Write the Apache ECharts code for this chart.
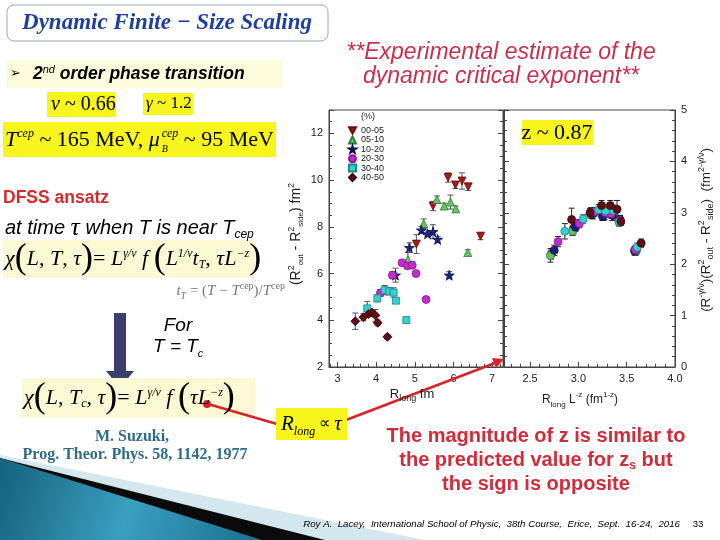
<!DOCTYPE html>
<html>
<head>
<meta charset="utf-8">
<script src="https://cdn.jsdelivr.net/npm/echarts@6/dist/echarts.min.js"></script>
<style>
  html, body { margin: 0; background: #fff; }
  #chart { width: 720px; height: 540px; }
</style>
</head>
<body>
<div id="chart"></div>
<script>
// centrality classes (%)
const centralities = ["00-05", "05-10", "10-20", "20-30", "30-40", "40-50"];

// left panel: [R_long (fm), R2out - R2side (fm^2), error]
const left0005 = [[5.86, 10.11, 0.2], [6.05, 9.79, 0.15], [6.22, 9.96, 0.35], [6.38, 9.71, 0.15], [5.47, 8.89, 0.2], [5.04, 7.26, 0.4], [6.70, 7.60, 0.15]];
const left0510 = [[5.57, 9.17, 0.15], [5.76, 8.89, 0.12], [5.92, 9.06, 0.3], [6.06, 8.77, 0.12], [5.23, 8.14, 0.2], [4.82, 6.60, 0.3], [6.37, 6.90, 0.12]];
const left1020 = [[5.17, 7.86, 0.15], [5.33, 7.70, 0.12], [5.47, 7.79, 0.3], [5.59, 7.46, 0.12], [4.86, 7.11, 0.2], [4.50, 5.93, 0.3], [5.89, 5.93, 0.15]];
const left2030 = [[4.67, 6.46, 0.12], [4.81, 6.33, 0.12], [4.93, 6.36, 0.15], [5.03, 6.00, 0.12], [4.42, 5.93, 0.15], [4.11, 5.17, 0.15], [5.29, 4.89, 0.12]];
const left3040 = [[4.22, 5.29, 0.2], [4.34, 5.24, 0.15], [4.45, 5.19, 0.2], [4.51, 4.84, 0.12], [4.03, 4.94, 0.15], [3.77, 4.51, 0.3], [4.78, 4.01, 0.12]];
const left4050 = [[3.46, 3.96, 0.35], [3.67, 4.13, 0.15], [3.80, 4.27, 0.12], [3.89, 4.33, 0.12], [3.98, 4.21, 0.25], [4.04, 3.89, 0.12], [4.29, 3.29, 0.1]];

// right panel: [R_long L^-z, R^-gamma/nu (R2out - R2side), error]
const right0005 = [[2.72, 2.20, 0.1], [2.95, 2.70, 0.1], [3.13, 3.00, 0.1], [3.27, 2.97, 0.1], [3.37, 2.98, 0.1], [3.43, 2.86, 0.08], [3.60, 2.27, 0.08]];
const right0510 = [[2.71, 2.17, 0.13], [2.94, 2.64, 0.08], [3.14, 2.99, 0.1], [3.26, 2.95, 0.1], [3.36, 2.97, 0.12], [3.42, 2.84, 0.08], [3.59, 2.25, 0.08]];
const right1020 = [[2.75, 2.27, 0.1], [2.97, 2.72, 0.08], [3.15, 2.98, 0.1], [3.25, 2.93, 0.08], [3.35, 2.95, 0.1], [3.43, 2.87, 0.08], [3.58, 2.26, 0.08]];
const right2030 = [[2.79, 2.44, 0.1], [3.01, 2.79, 0.08], [3.17, 3.02, 0.08], [3.28, 3.00, 0.08], [3.34, 2.98, 0.08], [3.43, 2.85, 0.08], [3.59, 2.28, 0.08]];
const right3040 = [[2.86, 2.64, 0.15], [3.05, 2.88, 0.08], [3.21, 3.06, 0.1], [3.28, 3.04, 0.08], [3.36, 3.05, 0.1], [3.42, 2.82, 0.08], [3.61, 2.33, 0.08]];
const right4050 = [[2.93, 2.87, 0.22], [3.12, 3.00, 0.08], [3.24, 3.14, 0.1], [3.33, 3.14, 0.1], [3.40, 3.07, 0.17], [3.44, 2.83, 0.08], [3.65, 2.41, 0.08]];

const leftXTicks = [3, 4, 5, 6, 7];
const leftXMinor = [2.8, 3.2, 3.4, 3.6, 3.8, 4.2, 4.4, 4.6, 4.8, 5.2, 5.4, 5.6, 5.8, 6.2, 6.4, 6.6, 6.8, 7.2];
const rightXTicks = [2.5, 3.0, 3.5, 4.0];
const rightXMinor = [2.3, 2.4, 2.6, 2.7, 2.8, 2.9, 3.1, 3.2, 3.3, 3.4, 3.6, 3.7, 3.8, 3.9];

const leftSets = [left0005, left0510, left1020, left2030, left3040, left4050];
const rightSets = [right0005, right0510, right1020, right2030, right3040, right4050];

const STAR = "path://M50,0 L61,35 L98,35 L68,57 L79,91 L50,70 L21,91 L32,57 L2,35 L39,35 Z";
const DOWN = "path://M0,0 L10,0 L5,9 Z";
const fillColors = ["#a01c1c", "#62c462", "#1c2080", "#c22ccc", "#38cfcf", "#5c1016"];
const edgeColors = ["#6a0c0c", "#2e7d32", "#0e1050", "#8a1a90", "#168a8a", "#3a080c"];
const shapes = [DOWN, "triangle", STAR, "circle", "rect", "diamond"];
const sizes = [8, 8, 10, 8, 7, 9];

const chart = echarts.init(document.getElementById("chart"), null, { renderer: "canvas" });

function errorBars(xi, yi, sets, color) {
  return {
    type: "custom",
    name: "err",
    xAxisIndex: xi,
    yAxisIndex: yi,
    silent: true,
    z: 1,
    data: sets.flat().map(p => [p[0], p[1] - p[2], p[1] + p[2]]),
    encode: { x: 0, y: [1, 2] },
    renderItem(params, api) {
      const lo = api.coord([api.value(0), api.value(1)]);
      const hi = api.coord([api.value(0), api.value(2)]);
      const st = { stroke: color, lineWidth: 1 };
      return {
        type: "group",
        children: [
          { type: "line", shape: { x1: lo[0], y1: lo[1], x2: hi[0], y2: hi[1] }, style: st },
          { type: "line", shape: { x1: lo[0] - 3, y1: lo[1], x2: lo[0] + 3, y2: lo[1] }, style: st },
          { type: "line", shape: { x1: hi[0] - 3, y1: hi[1], x2: hi[0] + 3, y2: hi[1] }, style: st },
        ],
      };
    },
  };
}

const leftSeries = leftSets.map((d, i) => ({
  name: centralities[i],
  type: "scatter",
  xAxisIndex: 0,
  yAxisIndex: 0,
  z: 3,
  data: d.map(p => [p[0], p[1]]),
  symbol: shapes[i],
  symbolSize: sizes[i],
  itemStyle: { color: fillColors[i], borderColor: edgeColors[i], borderWidth: 0.8, opacity: 1 },
}));

const rightSeries = rightSets.map((d, i) => ({
  name: centralities[i],
  type: "scatter",
  xAxisIndex: 2,
  yAxisIndex: 2,
  z: 3,
  data: d.map(p => [p[0], p[1]]),
  symbol: "circle",
  symbolSize: 8,
  itemStyle: { color: fillColors[i], borderColor: edgeColors[i], borderWidth: 0.8, opacity: 1 },
}));

const tickFont = { color: "#222", fontFamily: "Liberation Sans", fontSize: 11 };
const frame = { show: true, lineStyle: { color: "#444", width: 1 } };

// slide texts
const serif = "Liberation Serif";
const sans = "Liberation Sans";
function txt(x, y, text, style, extra) {
  return Object.assign({
    type: "text", silent: true, z: 10,
    style: Object.assign({ x, y, text, fill: "#000", fontFamily: sans, fontSize: 14, verticalAlign: "middle", align: "left" }, style),
  }, extra || {});
}
function box(x, y, w, h, fill, extra) {
  return Object.assign({ type: "rect", silent: true, z: 5, shape: { x, y, width: w, height: h }, style: { fill } }, extra || {});
}
const YEL = "#f7f51c";
const PALE = "#fbf9d4";

const formulaRich = {
  i: { fontFamily: serif, fontStyle: "italic", fontSize: 22, lineHeight: 34, fill: "#000" },
  n: { fontFamily: serif, fontSize: 22, lineHeight: 34, fill: "#000" },
  p: { fontFamily: serif, fontSize: 36, lineHeight: 34, fill: "#000" },
  sup: { fontFamily: serif, fontStyle: "italic", fontSize: 12, lineHeight: 34, verticalAlign: "top", padding: [6, 0, 0, 0], fill: "#000" },
  sub: { fontFamily: serif, fontStyle: "italic", fontSize: 12, lineHeight: 34, verticalAlign: "bottom", padding: [0, 0, 5, 0], fill: "#000" },
};

const graphics = [
  // bottom-left decoration
  { type: "polygon", silent: true, z: 0, shape: { points: [[0, 455], [425, 540], [0, 540]] }, style: { fill: "#d4e6ee" } },
  { type: "polygon", silent: true, z: 0, shape: { points: [[0, 458], [325, 540], [0, 540]] }, style: { fill: "#0a0a0a" } },
  {
    type: "polygon", silent: true, z: 0, shape: { points: [[0, 458], [262, 540], [0, 540]] },
    style: { fill: new echarts.graphic.LinearGradient(0, 0, 1, 1, [{ offset: 0, color: "#15617c" }, { offset: 0.5, color: "#3b9fc0" }, { offset: 1, color: "#1a6f8e" }]) },
  },

  // title
  { type: "rect", silent: true, z: 5, shape: { x: 7, y: 5, width: 321, height: 36, r: 7 }, style: { fill: "#fff", stroke: "#9aa6b4", lineWidth: 1 } },
  txt(167, 23, "Dynamic Finite − Size Scaling", { fontFamily: serif, fontStyle: "italic", fontWeight: "bold", fontSize: 23, fill: "#1f3f9f", align: "center" }),

  // 2nd order phase transition
  box(7, 60, 276, 28, "#fcfbdc"),
  txt(10, 74, "➢", { fontFamily: "DejaVu Sans", fontSize: 13, fill: "#000" }),
  txt(33, 74, "{b|2}{s|nd}{b| order phase transition}", {
    rich: {
      b: { fontFamily: sans, fontStyle: "italic", fontWeight: "bold", fontSize: 17.5, lineHeight: 20, fill: "#000" },
      s: { fontFamily: sans, fontStyle: "italic", fontSize: 11, lineHeight: 20, verticalAlign: "top", fill: "#000" },
    },
  }),

  box(47, 92, 69, 25, YEL),
  txt(51, 105, "{i|ν}{n| ~ 0.66}", { rich: { i: { fontFamily: serif, fontStyle: "italic", fontSize: 20, fill: "#000" }, n: { fontFamily: serif, fontSize: 20, fill: "#000" } } }),
  box(143, 93, 50, 22, YEL),
  txt(146, 104, "{i|γ}{n| ~ 1.2}", { rich: { i: { fontFamily: serif, fontStyle: "italic", fontSize: 17, fill: "#000" }, n: { fontFamily: serif, fontSize: 17, fill: "#000" } } }),

  box(3, 122, 273, 35, YEL),
  txt(5, 140, "{i|T}{sup|cep}{n| ~ 165 MeV, }{i|μ}{b|B}{sup|cep}{n| ~ 95 MeV}", {
    rich: {
      i: { fontFamily: serif, fontStyle: "italic", fontSize: 22, lineHeight: 34, fill: "#000" },
      n: { fontFamily: serif, fontSize: 22, lineHeight: 34, fill: "#000" },
      sup: { fontFamily: serif, fontStyle: "italic", fontSize: 12, lineHeight: 34, verticalAlign: "top", padding: [5, 0, 0, 0], fill: "#000" },
      b: { fontFamily: serif, fontStyle: "italic", fontSize: 10, lineHeight: 34, verticalAlign: "bottom", width: 0, padding: [0, 0, 3, 2], fill: "#000" },
    },
  }),

  // experimental estimate
  txt(501, 53, "**Experimental estimate of the", { fontFamily: sans, fontStyle: "italic", fontSize: 23, fill: "#c9304c", align: "center" }),
  txt(501, 77, "dynamic critical exponent**", { fontFamily: sans, fontStyle: "italic", fontSize: 23, fill: "#c9304c", align: "center" }),

  // DFSS ansatz
  txt(3, 198, "DFSS ansatz", { fontFamily: sans, fontWeight: "bold", fontSize: 17.5, fill: "#d42b2b" }),
  txt(5, 228, "{a|at time }{t|τ}{a| when T is near T}{s|cep}", {
    rich: {
      a: { fontFamily: sans, fontStyle: "italic", fontSize: 20, lineHeight: 26, fill: "#000" },
      t: { fontFamily: serif, fontStyle: "italic", fontSize: 26, lineHeight: 26, fill: "#000" },
      s: { fontFamily: sans, fontStyle: "italic", fontSize: 12, lineHeight: 26, verticalAlign: "bottom", fill: "#000" },
    },
  }),
  box(3, 240, 252, 38, PALE),
  txt(5, 259, "{i|χ}{p|(}{i|L}{n|, }{i|T}{n|, }{i|τ}{p|)}{n|= }{i|L}{sup|γ/ν}{i| f }{p|(}{i|L}{sup|1/ν}{i|t}{sub|T}{n|, }{i|τL}{sup|−z}{p|)}", { rich: formulaRich }),
  txt(285, 291, "{i|t}{s|T}{n| = (}{i|T}{n| − }{i|T}{u|cep}{n|)/}{i|T}{u|cep}", {
    align: "right",
    rich: {
      i: { fontFamily: serif, fontStyle: "italic", fontSize: 15, lineHeight: 20, fill: "#777" },
      n: { fontFamily: serif, fontSize: 15, lineHeight: 20, fill: "#777" },
      s: { fontFamily: serif, fontStyle: "italic", fontSize: 10, lineHeight: 20, verticalAlign: "bottom", fill: "#777" },
      u: { fontFamily: serif, fontSize: 10, lineHeight: 20, verticalAlign: "top", fill: "#777" },
    },
  }),

  // down arrow
  box(114, 313, 12, 60, "#3b3e6e"),
  { type: "polygon", silent: true, z: 5, shape: { points: [[106, 371], [134, 371], [120, 388]] }, style: { fill: "#3b3e6e" } },
  txt(178, 326, "For", { fontFamily: sans, fontStyle: "italic", fontSize: 19, align: "center" }),
  txt(153, 347, "{a|T = T}{s|c}", {
    rich: {
      a: { fontFamily: sans, fontStyle: "italic", fontSize: 19, lineHeight: 24, fill: "#000" },
      s: { fontFamily: sans, fontStyle: "italic", fontSize: 11, lineHeight: 24, verticalAlign: "bottom", fill: "#000" },
    },
  }),

  box(22, 378, 233, 40, PALE),
  txt(24, 398, "{i|χ}{p|(}{i|L}{n|, }{i|T}{sub|c}{n|, }{i|τ}{p|)}{n|= }{i|L}{sup|γ/ν}{i| f }{p|(}{i|τL}{sup|−z}{p|)}", { rich: formulaRich }),

  // Suzuki reference
  txt(132, 437, "M. Suzuki,", { fontFamily: serif, fontWeight: "bold", fontSize: 16, fill: "#2f6e82", align: "center" }),
  txt(135, 455, "Prog. Theor. Phys. 58, 1142, 1977", { fontFamily: serif, fontWeight: "bold", fontSize: 16, fill: "#2f6e82", align: "center" }),

  // red connector lines
  { type: "line", silent: true, z: 6, shape: { x1: 277, y1: 424, x2: 208, y2: 404 }, style: { stroke: "#d8232a", lineWidth: 2.5 } },
  { type: "circle", silent: true, z: 6, shape: { cx: 207, cy: 404, r: 4 }, style: { fill: "#d8232a" } },
  { type: "line", silent: true, z: 6, shape: { x1: 346, y1: 420, x2: 495, y2: 363 }, style: { stroke: "#d8232a", lineWidth: 2.5 } },
  { type: "polygon", silent: true, z: 6, shape: { points: [[504, 359], [492, 358], [496, 368]] }, style: { fill: "#d8232a" } },

  // R_long ∝ τ
  box(276, 408, 71, 32, YEL, { z: 7 }),
  txt(281, 424, "{i|R}{s|long}{n| ∝ }{i|τ}", {
    z: 8,
    rich: {
      i: { fontFamily: serif, fontStyle: "italic", fontSize: 21, lineHeight: 28, fill: "#000" },
      s: { fontFamily: serif, fontStyle: "italic", fontSize: 12, lineHeight: 28, verticalAlign: "bottom", fill: "#000" },
      n: { fontFamily: serif, fontSize: 16, lineHeight: 28, fill: "#000" },
    },
  }),

  // z ~ 0.87
  box(522, 120, 71, 25, YEL),
  txt(557, 133, "z ~ 0.87", { fontFamily: serif, fontSize: 22, align: "center" }),

  // conclusion
  txt(536, 436, "The magnitude of z is similar to", { fontFamily: sans, fontWeight: "bold", fontSize: 20, fill: "#d22c3a", align: "center" }),
  txt(536, 460, "{a|the predicted value for z}{s|s}{a| but}", {
    align: "center",
    rich: {
      a: { fontFamily: sans, fontWeight: "bold", fontSize: 20, lineHeight: 24, fill: "#d22c3a" },
      s: { fontFamily: sans, fontWeight: "bold", fontSize: 12, lineHeight: 24, verticalAlign: "bottom", fill: "#d22c3a" },
    },
  }),
  txt(536, 484, "the sign is opposite", { fontFamily: sans, fontWeight: "bold", fontSize: 20, fill: "#d22c3a", align: "center" }),

  // footer
  txt(680, 524, "Roy A.  Lacey,  International School of Physic,  38th Course,  Erice,  Sept.  16-24,  2016", { fontFamily: sans, fontStyle: "italic", fontSize: 9.7, align: "right" }),
  txt(698, 524, "33", { fontFamily: sans, fontSize: 9.5, align: "center" }),

  // axis titles
  txt(0, 0, "{a|(R}{u|2}{s|out}{a| - R}{u|2}{s|side}{a|) fm}{u|2}", {
    align: "center",
    rich: {
      a: { fontFamily: sans, fontSize: 14, lineHeight: 18, fill: "#222" },
      u: { fontFamily: sans, fontSize: 9, lineHeight: 18, verticalAlign: "top", fill: "#222" },
      s: { fontFamily: sans, fontSize: 8, lineHeight: 18, verticalAlign: "bottom", fill: "#222" },
    },
  }, { x: 296, y: 234, rotation: Math.PI / 2 }),
  txt(0, 0, "{a|(R}{u|-γ/ν}{a|)(R}{u|2}{s|out}{a| - R}{u|2}{s|side}{a|)  (fm}{u|2-γ/ν}{a|)}", {
    align: "center",
    rich: {
      a: { fontFamily: sans, fontSize: 13.5, lineHeight: 18, fill: "#222" },
      u: { fontFamily: sans, fontSize: 9, lineHeight: 18, verticalAlign: "top", fill: "#222" },
      s: { fontFamily: sans, fontSize: 9, lineHeight: 18, verticalAlign: "bottom", fill: "#222" },
    },
  }, { x: 706, y: 230, rotation: Math.PI / 2 }),
  txt(412, 394, "{a|R}{s|long}{a| fm}", {
    align: "center",
    rich: {
      a: { fontFamily: sans, fontSize: 13, lineHeight: 18, fill: "#222" },
      s: { fontFamily: sans, fontSize: 9, lineHeight: 18, verticalAlign: "bottom", fill: "#222" },
    },
  }),
  txt(580, 400, "{a|R}{s|long}{a| L}{u|-z}{a| (fm}{u|1-z}{a|)}", {
    align: "center",
    rich: {
      a: { fontFamily: sans, fontSize: 12, lineHeight: 18, fill: "#222" },
      s: { fontFamily: sans, fontSize: 8, lineHeight: 18, verticalAlign: "bottom", fill: "#222" },
      u: { fontFamily: sans, fontSize: 8, lineHeight: 18, verticalAlign: "top", fill: "#222" },
    },
  }),
  txt(361, 117, "(%)", { fontFamily: sans, fontSize: 9, fill: "#222" }),
];

chart.setOption({
  animation: false,
  backgroundColor: "#fff",
  grid: [
    { left: 329, top: 110, width: 174, height: 257, show: true, borderColor: "#444", borderWidth: 1, backgroundColor: "transparent" },
    { left: 504, top: 110, width: 171, height: 257, show: true, borderColor: "#444", borderWidth: 1, backgroundColor: "transparent" },
  ],
  legend: {
    data: centralities.map((name, i) => ({ name, icon: shapes[i] })),
    left: 343,
    top: 121,
    orient: "vertical",
    itemWidth: 7,
    itemHeight: 7,
    itemGap: 0.4,
    textStyle: { fontFamily: sans, fontSize: 9, color: "#222", lineHeight: 9 },
    selectedMode: false,
  },
  xAxis: [
    {
      gridIndex: 0, type: "value", min: 2.78, max: 7.28, position: "bottom",
      axisLine: frame, splitLine: { show: false },
      axisTick: { inside: true, length: 5, customValues: leftXTicks, lineStyle: { color: "#444" } },
      axisLabel: Object.assign({ customValues: leftXTicks, margin: 6 }, tickFont),
    },
    {
      gridIndex: 0, type: "value", min: 2.78, max: 7.28, position: "bottom",
      axisLine: { show: false }, splitLine: { show: false }, axisLabel: { show: false },
      axisTick: { inside: true, length: 3, customValues: leftXMinor, lineStyle: { color: "#444" } },
    },
    {
      gridIndex: 1, type: "value", min: 2.23, max: 4.0, position: "bottom",
      axisLine: frame, splitLine: { show: false },
      axisTick: { inside: true, length: 5, customValues: rightXTicks, lineStyle: { color: "#444" } },
      axisLabel: Object.assign({ customValues: rightXTicks, margin: 6, formatter: v => v.toFixed(1) }, tickFont),
    },
    {
      gridIndex: 1, type: "value", min: 2.23, max: 4.0, position: "bottom",
      axisLine: { show: false }, splitLine: { show: false }, axisLabel: { show: false },
      axisTick: { inside: true, length: 3, customValues: rightXMinor, lineStyle: { color: "#444" } },
    },
  ],
  yAxis: [
    {
      gridIndex: 0, type: "value", min: 2, max: 13, interval: 2, position: "left",
      axisLine: frame, splitLine: { show: false },
      axisTick: { inside: true, length: 5, lineStyle: { color: "#444" } },
      minorTick: { show: true, splitNumber: 4, length: 3, lineStyle: { color: "#444" } },
      axisLabel: Object.assign({ showMaxLabel: false, margin: 6 }, tickFont),
    },
    {
      gridIndex: 0, type: "value", min: 2, max: 13, interval: 2, position: "right",
      axisLine: frame, splitLine: { show: false }, axisLabel: { show: false },
      axisTick: { inside: true, length: 5, lineStyle: { color: "#444" } },
      minorTick: { show: true, splitNumber: 4, length: 3, lineStyle: { color: "#444" } },
    },
    {
      gridIndex: 1, type: "value", min: 0, max: 5, interval: 1, position: "right",
      axisLine: frame, splitLine: { show: false },
      axisTick: { inside: true, length: 5, lineStyle: { color: "#444" } },
      minorTick: { show: true, splitNumber: 5, length: 3, lineStyle: { color: "#444" } },
      axisLabel: Object.assign({ margin: 6 }, tickFont),
    },
    {
      gridIndex: 1, type: "value", min: 0, max: 5, interval: 1, position: "left",
      axisLine: frame, splitLine: { show: false }, axisLabel: { show: false },
      axisTick: { inside: true, length: 5, lineStyle: { color: "#444" } },
      minorTick: { show: true, splitNumber: 5, length: 3, lineStyle: { color: "#444" } },
    },
  ],
  series: [
    errorBars(0, 0, leftSets, "#555"),
    errorBars(2, 2, rightSets, "#222"),
    ...leftSeries,
    ...rightSeries,
  ],
  graphic: { elements: graphics },
});
</script>
</body>
</html>
